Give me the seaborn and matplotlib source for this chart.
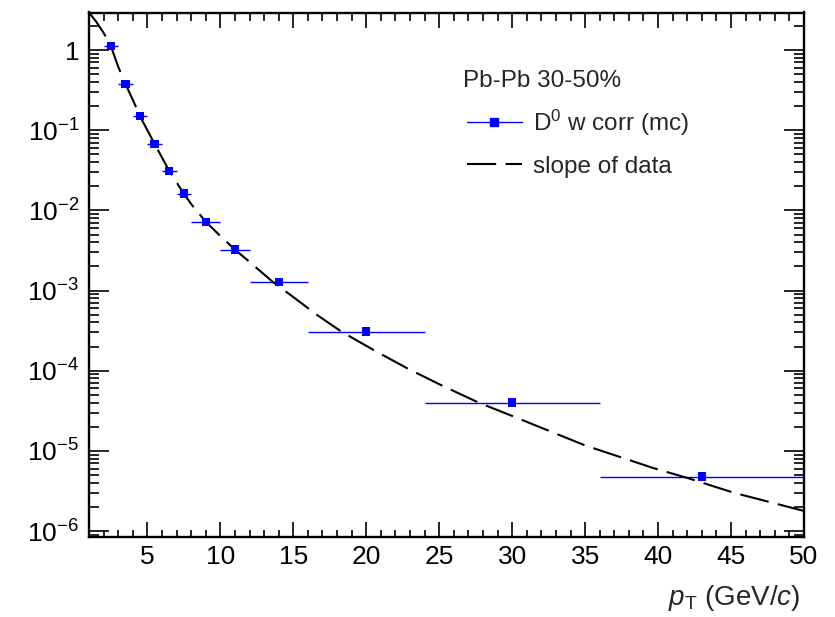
import matplotlib
matplotlib.use("Agg")
import matplotlib.pyplot as plt
import matplotlib.ticker as mticker
from matplotlib.lines import Line2D
import numpy as np
import pandas as pd
import seaborn as sns

# ---- data ----
pt_center = [2.5, 3.5, 4.5, 5.5, 6.5, 7.5, 9, 11, 14, 20, 30, 43]
pt_low = [2, 3, 4, 5, 6, 7, 8, 10, 12, 16, 24, 36]
pt_high = [3, 4, 5, 6, 7, 8, 10, 12, 16, 24, 36, 50]
yields = [1.12, 0.377, 0.149, 0.0673, 0.0310, 0.0162, 0.00723, 0.00324,
          0.00128, 3.07e-4, 4.0e-5, 4.78e-6]

fit_x = [1.0, 1.5, 2.0, 2.5, 3.0, 3.5, 4.0, 4.5, 5.0, 5.5, 6.0, 6.5, 7.0, 7.5,
         8.0, 9.0, 10.0, 11.0, 12.0, 13.6, 15.0, 16.6, 18.3, 20.7, 22.9,
         25.1, 27.7, 30.1, 35.0, 39.7, 42.0, 45.2, 50.0]
fit_y = [2.94, 2.25, 1.64, 1.12, 0.62, 0.377, 0.24, 0.149, 0.100, 0.0673,
         0.0457, 0.031, 0.0224, 0.0162, 0.0120, 0.00723, 0.00479, 0.00324,
         0.00228, 0.00128, 8.3e-4, 5.0e-4, 3.07e-4, 1.73e-4, 1.05e-4,
         6.65e-5, 4.0e-5, 2.68e-5, 1.17e-5, 6.08e-6, 4.6e-6, 3.0e-6, 1.78e-6]

ytick_vals = [1e-6, 1e-5, 1e-4, 1e-3, 1e-2, 1e-1, 1]
ytick_labels = ["$10^{-6}$", "$10^{-5}$", "$10^{-4}$", "$10^{-3}$",
                "$10^{-2}$", "$10^{-1}$", "1"]
xtick_vals = [5, 10, 15, 20, 25, 30, 35, 40, 45, 50]

header = "Pb-Pb 30-50%"
label_data = "D$^{0}$ w corr (mc)"
label_fit = "slope of data"

# ---- style ----
sns.set_theme(style="ticks")
plt.rcParams["font.family"] = ["Liberation Sans", "DejaVu Sans"]
plt.rcParams["mathtext.fontset"] = "custom"
plt.rcParams["mathtext.rm"] = "Liberation Sans"
plt.rcParams["mathtext.it"] = "Liberation Sans:italic"
plt.rcParams["mathtext.bf"] = "Liberation Sans:bold"

df = pd.DataFrame({"pt": pt_center, "y": yields,
                   "lo": pt_low, "hi": pt_high})
dfit = pd.DataFrame({"pt": fit_x, "y": fit_y})

fig = plt.figure(figsize=(8.35, 6.17), dpi=100)
ax = fig.add_axes([89 / 835, 1 - 536.7 / 617, (804 - 89) / 835,
                   (536.7 - 12.5) / 617])

blue = "#0000ff"
dash = (0, (14, 4.5))
xerr = [np.array(pt_center) - np.array(pt_low),
        np.array(pt_high) - np.array(pt_center)]
ax.errorbar(df["pt"], df["y"], xerr=xerr, fmt="none", ecolor=blue,
            elinewidth=1.0, capsize=0, zorder=2)
sns.lineplot(data=dfit, x="pt", y="y", ax=ax, color="black", lw=1.5,
             linestyle=dash, zorder=3, legend=False)
sns.scatterplot(data=df, x="pt", y="y", ax=ax, marker="s", color=blue,
                s=36, edgecolor="none", zorder=4, legend=False)

ax.set_yscale("log")
ax.set_xlim(1, 50)
ax.set_ylim(8.5e-7, 2.94)

ax.set_xticks(xtick_vals)
ax.set_xticklabels([str(v) for v in xtick_vals])
ax.xaxis.set_minor_locator(mticker.MultipleLocator(1))
ax.yaxis.set_major_locator(mticker.FixedLocator(ytick_vals))
ax.yaxis.set_major_formatter(mticker.FixedFormatter(ytick_labels))
ax.yaxis.set_minor_locator(mticker.LogLocator(base=10, subs=np.arange(2, 10)))
ax.yaxis.set_minor_formatter(mticker.NullFormatter())

ax.tick_params(which="both", direction="in", top=True, right=True,
               colors="black", width=1.2)
ax.tick_params(axis="x", which="major", length=10.8, labelsize=19, pad=6)
ax.tick_params(axis="x", which="minor", length=5.4)
ax.tick_params(axis="y", which="major", length=14.4, labelsize=19, pad=7)
ax.tick_params(axis="y", which="minor", length=7.2)
for s in ax.spines.values():
    s.set_linewidth(1.7)
    s.set_color("black")

ax.set_xlabel("")
ax.set_ylabel("")
fig.text(800 / 835, 1 - 598 / 617, r"$p_{\mathrm{T}}$ (GeV/$c$)",
         ha="right", va="center", fontsize=20)

# legend
h_data = Line2D([], [], color=blue, lw=1.0, marker="s", markersize=6,
                markerfacecolor=blue, markeredgecolor=blue)
h_fit = Line2D([], [], color="black", lw=1.5, linestyle=dash)
ax.text((463 - 89) / 715, 1 - (81 - 12.5) / 524.2, header,
        transform=ax.transAxes, ha="left", va="center", fontsize=17.5)
leg = ax.legend([h_data, h_fit], [label_data, label_fit],
                loc="upper left",
                bbox_to_anchor=((467 - 89) / 715, 1 - (107.5 - 12.5) / 524.2),
                frameon=False, fontsize=17.5, handlelength=2.26,
                handletextpad=0.45, labelspacing=0.74, borderpad=0,
                borderaxespad=0)

fig.savefig("out.png", dpi=100, facecolor="white")
